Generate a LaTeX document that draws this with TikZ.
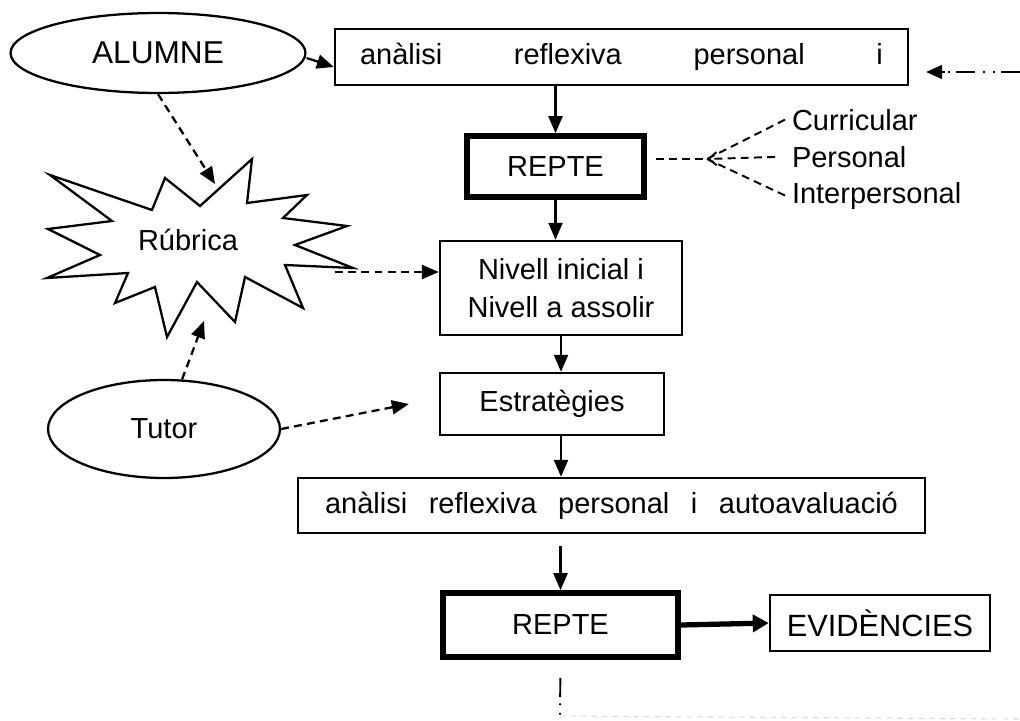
\documentclass[tikz,border=0pt]{standalone}
\usepackage{fontspec}
\setmainfont{Liberation Sans}
\usetikzlibrary{arrows.meta, shapes.geometric}

\begin{document}
\begin{tikzpicture}[x=0.02cm, y=-0.02cm, line width=1.3pt,
        font=\fontsize{16.5}{22}\selectfont,
        box/.style={draw, line width=1.4pt, inner sep=0pt, align=center},
        repte box/.style={box, line width=3.2pt},
        oval/.style={ellipse, draw, line width=1.3pt, inner sep=0pt},
        lbl/.style={anchor=base west},
        arr/.style={-{Triangle[length=0.34cm, width=0.28cm]}},
        dasharr/.style={arr, dash pattern=on 4.5pt off 3pt},
        branch/.style={line width=1.1pt, dash pattern=on 4.5pt off 3pt},
        loopline/.style={line width=1.1pt, dash pattern=on 11pt off 3.5pt on 1pt off 4.5pt on 1pt off 4.5pt}]

    \useasboundingbox (0,0) rectangle (1020,720);

    \node[box, minimum width=11.46cm, minimum height=1.12cm] (analisi) at (621.5,57)
        {\makebox[10.46cm]{anàlisi\hfill reflexiva\hfill personal\hfill i}};
    \node[repte box, minimum width=3.54cm, minimum height=1.22cm] (repte1) at (555.5,166.5) {REPTE};
    \node[box, minimum width=4.84cm, minimum height=1.88cm] (nivell) at (561,288) {Nivell inicial i\\Nivell a assolir};
    \node[box, minimum width=4.48cm, minimum height=1.24cm] (estrat) at (552,404) {Estratègies};
    \node[box, minimum width=12.54cm, minimum height=1.1cm] (autoav) at (611.5,505.5)
        {\makebox[11.46cm]{anàlisi\hfill reflexiva\hfill personal\hfill i\hfill autoavaluació}};
    \node[repte box, minimum width=4.7cm, minimum height=1.28cm] (repte2) at (560.5,625) {REPTE};
    \node[box, minimum width=4.4cm, minimum height=1.12cm] (evid) at (880,623) {\fontsize{17.5}{22}\selectfont EVIDÈNCIES};

    \node[oval, minimum width=5.9cm, minimum height=1.6cm] (alumne) at (158,53) {\fontsize{18}{22}\selectfont ALUMNE};
    \node[oval, minimum width=4.64cm, minimum height=1.96cm] (tutor) at (164,429) {Tutor};

    % estrella de la rubrica
    \draw (50,175) -- (152,210) -- (165,178) -- (200,206) -- (252,159) -- (247,203) -- (307,195)
        -- (283,218) -- (347,226) -- (295,245) -- (353,268) -- (285,265) -- (303,308) -- (245,277)
        -- (235,322) -- (197,282) -- (167,337) -- (155,287) -- (115,303) -- (128,273) -- (47,278)
        -- (100,255) -- (48,229) -- (112,221) -- cycle;
    \node (rubrica) at (188,240) {Rúbrica};
    \coordinate (rubn) at (215,184);
    \coordinate (rube) at (335,272);
    \coordinate (rubs) at (204,321);

    \node[lbl] (curr) at (785,130) {Curricular};
    \node[lbl] (pers) at (785,167) {Personal};
    \node[lbl] (inter) at (785,203) {Interpersonal};
    \coordinate (junc) at (707,159);

    \coordinate (loopin) at (1020,72);
    \coordinate (looptip) at (945,72);
    \coordinate (loopb) at (560,716);
    \coordinate (loopc) at (1020,719);

    \draw[arr] ([yshift=-0.1cm]alumne.east) -- ([yshift=-0.2cm]analisi.west);
    \draw[arr] (analisi.south -| repte1.north) -- (repte1.north);
    \draw[arr] (repte1.south) -- (repte1.south |- nivell.north);
    \draw[arr] (nivell.south) -- (nivell.south |- estrat.north);
    \draw[arr] (nivell.south |- estrat.south) -- (nivell.south |- autoav.north);
    \draw[arr, shorten <=0.24cm] (autoav.south -| repte2.north) -- (repte2.north);
    \draw[line width=3pt, -{Triangle[length=0.32cm, width=0.34cm]}] (repte2.east) -- (evid.west);

    \draw[dasharr] (alumne.south) -- (rubn);
    \draw[dasharr] (rube) -- (nivell.west |- rube);
    \draw[dasharr] (tutor.70) -- (rubs);
    \draw[dasharr] (tutor.east) -- ([xshift=-0.6cm]estrat.west);

    \draw[branch, shorten <=0.18cm] (repte1.east |- junc) -- (junc);
    \draw[branch] (curr.west) -- (junc);
    \draw[branch, -{Straight Barb[length=1.6mm, width=2.6mm]}, shorten <=0.2cm] (pers.west) -- (junc);
    \draw[branch] (inter.west) -- (junc);

    \draw[loopline] (loopin) -- (looptip);
    \draw[line width=1.1pt, -{Triangle[length=0.32cm, width=0.28cm]}, shorten >=0.34cm] (looptip) -- (analisi.east |- loopin);
    \draw[loopline, shorten <=0.36cm] (repte2.south) -- (loopb);
    \draw[gray!30, line width=0.6pt, dash pattern=on 3pt off 3pt] (loopb) -- (loopc);

\end{tikzpicture}
\end{document}
